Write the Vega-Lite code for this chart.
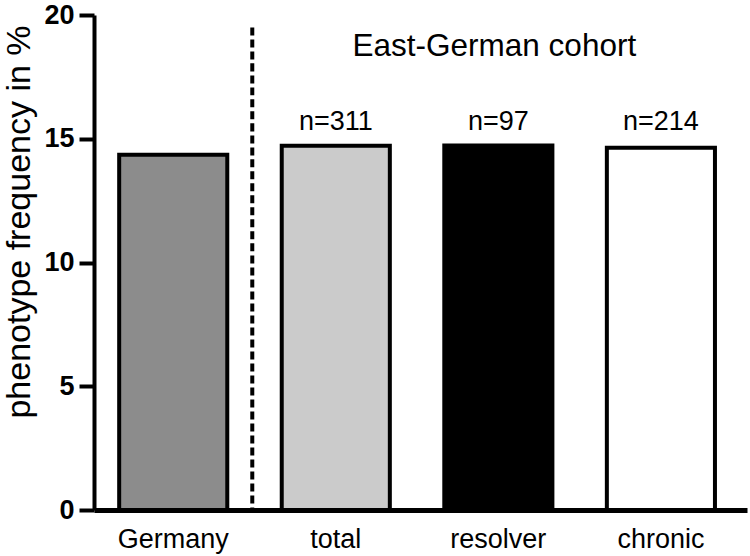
{
  "$schema": "https://vega.github.io/schema/vega-lite/v6.json",
  "width": 653,
  "height": 495,
  "autosize": {"type": "none"},
  "padding": {"left": 94, "top": 15, "right": 3, "bottom": 46},
  "background": "white",
  "config": {
    "view": {"stroke": null},
    "font": "Liberation Sans",
    "axis": {"grid": false, "domainColor": "black", "tickColor": "black", "labelColor": "black", "titleColor": "black", "labelFont": "Liberation Sans", "titleFont": "Liberation Sans"}
  },
  "data": {
    "values": [
      {"group": "Germany", "freq": 14.35, "n": ""},
      {"group": "total", "freq": 14.72, "n": "n=311"},
      {"group": "resolver", "freq": 14.73, "n": "n=97"},
      {"group": "chronic", "freq": 14.64, "n": "n=214"}
    ]
  },
  "layer": [
    {
      "mark": {"type": "bar", "stroke": "black", "strokeWidth": 4},
      "encoding": {
        "x": {
          "field": "group", "type": "nominal", "sort": null,
          "scale": {"domain": ["Germany", "total", "resolver", "chronic"], "paddingInner": 0.335, "paddingOuter": 0.176, "align": 0.44},
          "axis": {"title": null, "ticks": false, "tickSize": 0, "domainWidth": 5, "labelFontSize": 27, "labelPadding": 16, "labelAngle": 0, "labelBaseline": "top"}
        },
        "y": {
          "field": "freq", "type": "quantitative",
          "scale": {"domain": [0, 20], "nice": false, "zero": true},
          "axis": {"title": "phenotype frequency in %", "values": [0, 5, 10, 15, 20], "domainWidth": 4, "tickWidth": 4, "tickSize": 15, "labelFontSize": 27, "labelFontWeight": "bold", "labelPadding": 5, "titleFontSize": 34, "titleFontWeight": "normal", "titleX": -65, "titleY": 206.5, "titleBaseline": "alphabetic", "titleAngle": 270, "titleAlign": "center"}
        },
        "color": {
          "field": "group", "type": "nominal",
          "scale": {"domain": ["Germany", "total", "resolver", "chronic"], "range": ["#8c8c8c", "#cbcbcb", "#000000", "#ffffff"]},
          "legend": null
        }
      }
    },
    {
      "data": {"values": [{}]},
      "mark": {"type": "rule", "strokeDash": [8, 4], "strokeWidth": 4, "color": "black", "xOffset": 25},
      "encoding": {
        "x": {"datum": "Germany", "type": "nominal", "bandPosition": 1},
        "y": {"datum": 19.5, "type": "quantitative"},
        "y2": {"datum": 0}
      }
    },
    {
      "transform": [{"filter": "datum.n != ''"}],
      "mark": {"type": "text", "fontSize": 27, "baseline": "alphabetic", "color": "black"},
      "encoding": {
        "x": {"field": "group", "type": "nominal"},
        "y": {"datum": 15.35, "type": "quantitative"},
        "text": {"field": "n"}
      }
    },
    {
      "data": {"values": [{}]},
      "mark": {"type": "text", "text": "East-German cohort", "fontSize": 31.5, "baseline": "alphabetic", "color": "black", "dx": -4},
      "encoding": {
        "x": {"datum": "resolver", "type": "nominal"},
        "y": {"datum": 18.35, "type": "quantitative"}
      }
    }
  ]
}
